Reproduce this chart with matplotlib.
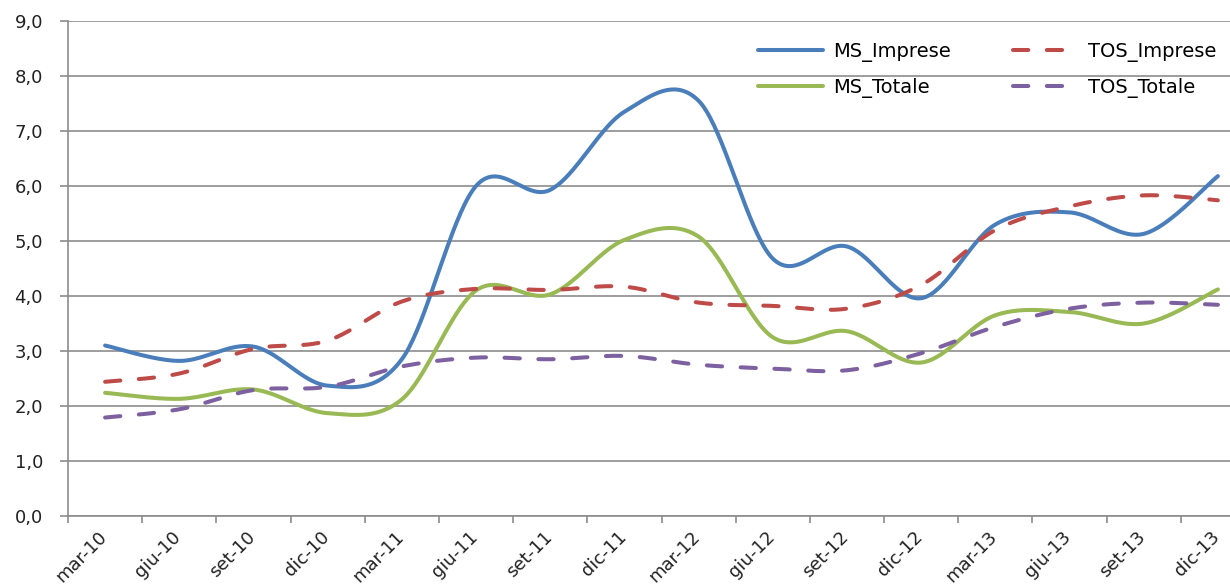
import numpy as np
import matplotlib
matplotlib.use("Agg")
import matplotlib.pyplot as plt
from matplotlib.transforms import ScaledTranslation

# categories (quarters) and series values
quarters = ["mar-10", "giu-10", "set-10", "dic-10", "mar-11", "giu-11", "set-11", "dic-11",
            "mar-12", "giu-12", "set-12", "dic-12", "mar-13", "giu-13", "set-13", "dic-13"]
ms_imprese = [3.10, 2.82, 3.08, 2.37, 2.85, 6.00, 5.93, 7.35, 7.55, 4.68, 4.90, 3.96, 5.30, 5.52, 5.13, 6.18]
ms_totale = [2.24, 2.13, 2.30, 1.87, 2.12, 4.10, 4.03, 5.02, 5.08, 3.25, 3.36, 2.79, 3.65, 3.71, 3.50, 4.12]
tos_imprese = [2.44, 2.59, 3.04, 3.19, 3.90, 4.13, 4.11, 4.17, 3.88, 3.82, 3.77, 4.20, 5.20, 5.63, 5.83, 5.74]
tos_totale = [1.79, 1.94, 2.29, 2.35, 2.72, 2.88, 2.85, 2.91, 2.75, 2.68, 2.65, 2.96, 3.44, 3.77, 3.88, 3.84]
ytick_labels = ["0,0", "1,0", "2,0", "3,0", "4,0", "5,0", "6,0", "7,0", "8,0", "9,0"]


def smooth(x, y, n=40):
    # Excel-like smoothed line: cubic Bezier segments through every point
    x = np.asarray(x, float)
    y = np.asarray(y, float)
    px = np.concatenate([[x[0]], x, [x[-1]]])
    py = np.concatenate([[y[0]], y, [y[-1]]])
    t = np.linspace(0, 1, n)[:, None]
    xs, ys = [], []
    for i in range(1, len(x)):
        p0 = np.array([px[i - 1], py[i - 1]])
        p1 = np.array([px[i], py[i]])
        p2 = np.array([px[i + 1], py[i + 1]])
        p3 = np.array([px[i + 2], py[i + 2]])
        c1 = p1 + (p2 - p0) / 6
        c2 = p2 - (p3 - p1) / 6
        pts = ((1 - t) ** 3) * p1 + 3 * ((1 - t) ** 2) * t * c1 + 3 * (1 - t) * t ** 2 * c2 + t ** 3 * p2
        xs.append(pts[:, 0])
        ys.append(pts[:, 1])
    return np.concatenate(xs), np.concatenate(ys)


fig = plt.figure(figsize=(12.3, 5.87), dpi=100)
ax = fig.add_axes([68 / 1230, 71 / 587, 1187 / 1230, 495 / 587])

xpos = np.arange(len(quarters))
lw = 2.9
series = [
    ("MS_Imprese", ms_imprese, "#4A7EBB", "-"),
    ("MS_Totale", ms_totale, "#98B954", "-"),
    ("TOS_Imprese", tos_imprese, "#BE4B48", (0, (3.8, 4.6))),
    ("TOS_Totale", tos_totale, "#7D60A0", (0, (3.8, 4.6))),
]
for name, vals, col, ls in series:
    sx, sy = smooth(xpos, vals)
    ax.plot(sx, sy, color=col, lw=lw, linestyle=ls, label=name,
            solid_capstyle="round", dash_capstyle="round")

ax.set_xlim(-0.5, len(quarters) - 0.5)
ax.set_ylim(0, 9)

grid_col = "#8c8c8c"
ax.set_yticks(np.arange(0, 10))
ax.set_yticklabels(ytick_labels)
ax.yaxis.grid(True, color=grid_col, lw=1.2)
ax.set_axisbelow(True)
ax.tick_params(axis="y", length=6, width=1.2, color=grid_col, pad=12, labelsize=13, labelcolor="#222222")

ax.set_xticks(xpos)
ax.set_xticklabels(quarters, rotation=45, ha="right", va="center", rotation_mode="anchor")
ax.set_xticks(np.arange(-0.5, len(quarters)), minor=True)
ax.tick_params(axis="x", which="major", length=0, pad=13, labelsize=13, labelcolor="#222222")
ax.tick_params(axis="x", which="minor", length=5, width=1.2, color=grid_col)
for lab in ax.get_xticklabels():
    lab.set_transform(lab.get_transform() + ScaledTranslation(-1 / 100, 0, fig.dpi_scale_trans))

for s in ["top", "right"]:
    ax.spines[s].set_visible(False)
for s in ["left", "bottom"]:
    ax.spines[s].set_color(grid_col)
    ax.spines[s].set_linewidth(1.2)

ax.legend(ncol=2, loc="upper left", bbox_to_anchor=(758 / 1230, 1 - 42 / 587),
          bbox_transform=fig.transFigure, frameon=False, fontsize=14,
          borderpad=0, borderaxespad=0, handlelength=3.35, handletextpad=0.52,
          labelspacing=0.8, columnspacing=3.2)

fig.savefig("out.png", dpi=100)
